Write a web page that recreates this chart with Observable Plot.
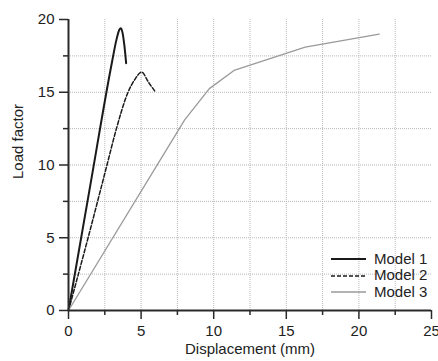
<!DOCTYPE html>
<html>
<head>
<meta charset="utf-8">
<script src="https://cdn.jsdelivr.net/npm/d3@7"></script>
<script src="https://cdn.jsdelivr.net/npm/@observablehq/plot@0.6"></script>
<style>
  html, body { margin: 0; padding: 0; background: #fff; }
  #chart { position: relative; width: 438px; height: 361px; font-family: "Liberation Sans", Arial, sans-serif; }
  #legend { position: absolute; left: 331px; top: 251px; font-size: 15px; color: #222; line-height: 16.4px; }
  #legend div { display: flex; align-items: center; height: 16.4px; }
  #legend svg { margin-right: 8px; }
</style>
</head>
<body>
<div id="chart"></div>
<script>
// Load–displacement curves of the three models
const model1Disp = [0, 1.5, 3.0, 3.3, 3.5, 3.6, 3.72, 3.85, 3.97];
const model1Load = [0, 8.6, 17.1, 18.6, 19.3, 19.4, 19.1, 18.2, 17.0];

const model2Disp = [0, 1.35, 2.65, 3.3, 4.1, 4.55, 5.04, 5.5, 6.0];
const model2Load = [0, 5, 10, 12.5, 15, 15.85, 16.38, 15.7, 15.0];

const model3Disp = [0, 8.0, 9.7, 11.4, 16.3, 21.4];
const model3Load = [0, 13.1, 15.25, 16.5, 18.1, 19.0];

const seriesNames = ["Model 1", "Model 2", "Model 3"];
const seriesStroke = ["#1a1a1a", "#1a1a1a", "#9a9a9a"];
const seriesWidth = [2, 1.5, 1.3];
const seriesDash = [null, "4,2", null];
const seriesCurve = ["monotone-x", "monotone-x", "linear"];

const xMajor = [0, 5, 10, 15, 20, 25];
const xMinor = [2.5, 7.5, 12.5, 17.5, 22.5];
const yMajor = [0, 5, 10, 15, 20];
const yMinor = [2.5, 7.5, 12.5, 17.5];
const xGrid = [2.5, 5, 7.5, 10, 12.5, 15, 17.5, 20, 22.5];
const yGrid = [2.5, 5, 7.5, 10, 12.5, 15, 17.5];

const toRows = (xs, ys) => xs.map((x, i) => ({x, y: ys[i]}));
const curves = [toRows(model1Disp, model1Load), toRows(model2Disp, model2Load), toRows(model3Disp, model3Load)];

const axisColor = "#2a2a2a";
const fontSize = "15px";

const chart = Plot.plot({
  width: 438,
  height: 361,
  marginLeft: 68,
  marginRight: 7,
  marginTop: 19,
  marginBottom: 51,
  style: {fontFamily: "Liberation Sans, Arial, sans-serif", fontSize, color: "#222", background: "#fff"},
  x: {domain: [0, 25]},
  y: {domain: [0, 20]},
  marks: [
    Plot.gridX(xGrid, {stroke: "#b8b8b8", strokeOpacity: 1, strokeDasharray: "1,1"}),
    Plot.gridY(yGrid, {stroke: "#b8b8b8", strokeOpacity: 1, strokeDasharray: "1,1"}),
    ...curves.map((rows, i) => Plot.line(rows, {
      x: "x", y: "y",
      stroke: seriesStroke[i],
      strokeWidth: seriesWidth[i],
      strokeDasharray: seriesDash[i],
      curve: seriesCurve[i]
    })),
    Plot.axisX(xMajor, {tickSize: 9, tickPadding: 6, stroke: axisColor, strokeWidth: 1.5, fontSize, label: null}),
    Plot.axisX(xMinor, {tickSize: 5, tickFormat: () => "", stroke: axisColor, strokeWidth: 1.5, label: null}),
    Plot.axisY(yMajor, {tickSize: 9, tickPadding: 5, stroke: axisColor, strokeWidth: 1.5, fontSize, label: null}),
    Plot.axisY(yMinor, {tickSize: 5, tickFormat: () => "", stroke: axisColor, strokeWidth: 1.5, label: null}),
    Plot.ruleX([0], {stroke: axisColor, strokeWidth: 2}),
    Plot.ruleY([0], {stroke: axisColor, strokeWidth: 2}),
    Plot.text(["Displacement (mm)"], {frameAnchor: "bottom", dy: 43, text: d => d, fontSize, fill: "#222"}),
    Plot.text(["Load factor"], {frameAnchor: "left", dx: -50, dy: 14, rotate: -90, text: d => d, fontSize, fill: "#222"})
  ]
});

const root = document.getElementById("chart");
root.appendChild(chart);

// Legend drawn as an overlay in the lower-right corner of the frame
const legend = document.createElement("div");
legend.id = "legend";
seriesNames.forEach((name, i) => {
  const row = document.createElement("div");
  const dash = seriesDash[i] ? ` stroke-dasharray="${seriesDash[i]}"` : "";
  row.innerHTML = `<svg width="35" height="4"><line x1="0" x2="35" y1="2" y2="2" stroke="${seriesStroke[i]}" stroke-width="${seriesWidth[i]}"${dash}/></svg><span>${name}</span>`;
  legend.appendChild(row);
});
root.appendChild(legend);
</script>
</body>
</html>
